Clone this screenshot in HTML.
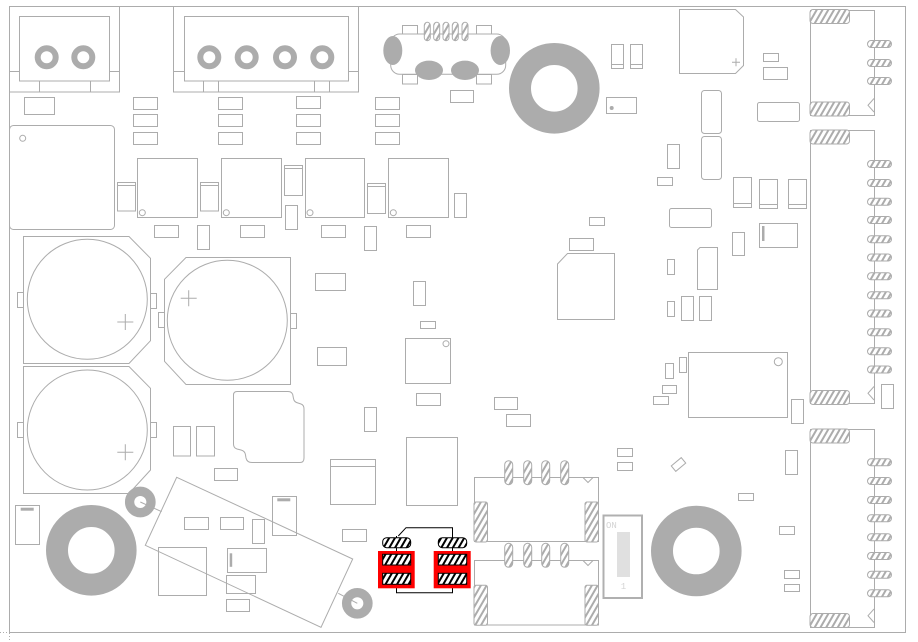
<!DOCTYPE html>
<html><head><meta charset="utf-8"><style>
html,body{margin:0;padding:0;background:#fff;}
svg{display:block;}
</style></head><body>
<svg width="918" height="642" viewBox="0 0 918 642" xmlns="http://www.w3.org/2000/svg" xmlns:xlink="http://www.w3.org/1999/xlink" font-family="Liberation Mono, monospace">
<defs>
<pattern id="hg" width="5" height="5" patternUnits="userSpaceOnUse" patternTransform="rotate(30)">
<rect width="5" height="5" fill="#fff"/><line x1="1" y1="0" x2="1" y2="5" stroke="#acacac" stroke-width="2"/></pattern>
<pattern id="hb" width="5" height="5" patternUnits="userSpaceOnUse" patternTransform="rotate(30)">
<rect width="5" height="5" fill="#fff"/><line x1="1" y1="0" x2="1" y2="5" stroke="#000" stroke-width="2"/></pattern>
<rect id="sp" width="24" height="7" rx="3.5" fill="url(#hg)" stroke="#acacac"/>
<rect id="bp" width="39.5" height="14" rx="3" fill="url(#hg)" stroke="#acacac"/>
<rect id="vp" width="6" height="18.4" rx="3" fill="url(#hg)" stroke="#acacac"/>
<rect id="pin" width="8" height="24" rx="4" fill="url(#hg)" stroke="#acacac"/>
<rect id="side" width="13.5" height="40" rx="2" fill="url(#hg)" stroke="#acacac"/>
<rect id="r3" width="24" height="12" fill="none" stroke="#acacac"/>
<circle id="ring" r="9" fill="none" stroke="#acacac" stroke-width="6"/>
<circle id="tor" r="34.3" fill="none" stroke="#acacac" stroke-width="22"/>
</defs>
<rect width="918" height="642" fill="#fff"/>
<g fill="none" stroke="#acacac" stroke-width="1">
<rect x="9.5" y="6.5" width="896" height="626"/>
<line x1="9.5" y1="615" x2="9.5" y2="642" stroke-dasharray="1,2"/>
<line x1="0" y1="632.5" x2="20" y2="632.5" stroke-dasharray="1,2"/>

<rect x="9.5" y="6.5" width="110" height="85.5"/>
<rect x="19.5" y="16.5" width="90" height="64.5"/>
<path d="M9.5,71.5H19.5M109.5,71.5H119.5M39.5,81V92M90.5,81V92"/>
<rect x="173.5" y="6.5" width="185" height="85.5"/>
<rect x="184.5" y="16.5" width="164" height="64.5"/>
<path d="M173.5,71.5H184.5M348.5,71.5H358.5M203.5,81V92M218.5,81V92M314.5,81V92M329.5,81V92"/>

<rect x="24.5" y="97.5" width="30" height="17"/>
<use href="#r3" x="133.5" y="97.5"/><use href="#r3" x="133.5" y="114.5"/><use href="#r3" x="133.5" y="132.5"/>
<use href="#r3" x="218.5" y="97.5"/><use href="#r3" x="218.5" y="114.5"/><use href="#r3" x="218.5" y="132.5"/>
<use href="#r3" x="296.5" y="96.5"/><use href="#r3" x="296.5" y="114.5"/><use href="#r3" x="296.5" y="132.5"/>
<use href="#r3" x="375.5" y="97.5"/><use href="#r3" x="375.5" y="114.5"/><use href="#r3" x="375.5" y="132.5"/>

<rect x="9.5" y="125.5" width="105" height="104" rx="4"/>
<circle cx="22.7" cy="138.3" r="3"/>

<rect x="137.5" y="158.5" width="60" height="59"/><circle cx="142.3" cy="212.7" r="3"/>
<rect x="221.5" y="158.5" width="60" height="59"/><circle cx="226.3" cy="212.7" r="3"/>
<rect x="305.5" y="158.5" width="59" height="59"/><circle cx="310" cy="212.7" r="3"/>
<rect x="388.5" y="158.5" width="60" height="59"/><circle cx="393.3" cy="212.7" r="3"/>
<rect x="117.5" y="182.5" width="18" height="28.5"/><path d="M117.5,185.5H135.5"/>
<rect x="200.5" y="182.5" width="18" height="28.5"/><path d="M200.5,185.5H218.5"/>
<rect x="284.5" y="165.5" width="18" height="30"/><path d="M284.5,168.5H302.5"/>
<rect x="367.5" y="183.5" width="18" height="30"/><path d="M367.5,186.5H385.5"/>
<rect x="454.5" y="193.5" width="12" height="24"/>
<rect x="285.5" y="205.5" width="12" height="24"/>
<use href="#r3" x="154.5" y="225.5"/>
<rect x="197.5" y="225.5" width="12" height="24"/>
<use href="#r3" x="240.5" y="225.5"/>
<use href="#r3" x="321.5" y="225.5"/>
<rect x="364.5" y="226.5" width="12" height="24"/>
<use href="#r3" x="406.5" y="225.5"/>

<rect x="390.7" y="34" width="115" height="40.3" rx="9"/>
<rect x="402.5" y="25.5" width="15" height="8.5"/>
<rect x="476.5" y="25.5" width="15" height="8.5"/>
<rect x="402.5" y="74.5" width="15" height="9.5"/>
<rect x="476.5" y="74.5" width="15" height="9.5"/>
<rect x="450.5" y="90.5" width="23" height="12"/>

<rect x="611.5" y="44.5" width="12" height="24"/><path d="M611.5,64.5H623.5"/>
<rect x="630.5" y="44.5" width="12" height="24"/><path d="M630.5,64.5H642.5"/>
<rect x="606.5" y="97.5" width="30" height="16"/>

<polygon points="679.5,9.5 735.5,9.5 743.5,17 743.5,65.5 735.5,73.5 679.5,73.5"/>
<path d="M732,62.3H740M736,58.3V66.3"/>
<rect x="763.5" y="53.5" width="15" height="8"/>
<use href="#r3" x="763.5" y="67.5"/>
<rect x="757.5" y="102.5" width="42" height="19" rx="2"/>
<rect x="701.5" y="90.5" width="20" height="43" rx="3"/>
<rect x="701.5" y="136.5" width="20" height="43" rx="3"/>
<rect x="667.5" y="144.5" width="12" height="24"/>
<rect x="657.5" y="177.5" width="15" height="8"/>
<rect x="733.5" y="177.5" width="18" height="30"/><path d="M733.5,203.5H751.5"/>
<rect x="759.5" y="179.5" width="18" height="29"/><path d="M759.5,204.5H777.5"/>
<rect x="788.5" y="179.5" width="18" height="29"/><path d="M788.5,204.5H806.5"/>
<rect x="669.5" y="208.5" width="42" height="19" rx="2"/>
<rect x="589.5" y="217.5" width="15" height="8"/>
<use href="#r3" x="569.5" y="238.5"/>
<rect x="732.5" y="232.5" width="12" height="23"/>
<rect x="759.5" y="223.5" width="38" height="24"/>

<rect x="810.5" y="10.5" width="64" height="105"/>
<polyline points="874,98.5 868,105.3 874,112"/>
<rect x="810.5" y="130.5" width="64" height="273"/>
<polyline points="874,386.5 868,393.3 874,400"/>
<rect x="810.5" y="429.5" width="64" height="198"/>
<polyline points="874,609 868,615.7 874,622.5"/>
<rect x="881.5" y="384.5" width="12" height="24"/>

<polygon points="567.5,253.5 614.5,253.5 614.5,319.5 557.5,319.5 557.5,264"/>
<rect x="667.5" y="259.5" width="7" height="15"/>
<polygon points="700,247.5 717.5,247.5 717.5,289.5 697.5,289.5 697.5,250"/>
<rect x="667.5" y="301.5" width="7" height="15"/>
<rect x="681.5" y="296.5" width="12" height="24"/>
<rect x="699.5" y="296.5" width="12" height="24"/>
<rect x="688.5" y="352.5" width="99" height="65"/><circle cx="778.3" cy="361.7" r="4"/>
<rect x="679.5" y="357.5" width="7" height="15"/>
<rect x="665.5" y="363.5" width="8" height="15"/>
<rect x="662.5" y="385.5" width="14" height="8"/>
<rect x="653.5" y="396.5" width="15" height="8"/>
<rect x="791.5" y="399.5" width="12" height="24"/>
<rect x="494.5" y="397.5" width="23" height="12"/>
<use href="#r3" x="506.5" y="414.5"/>
<rect x="617.5" y="448.5" width="15" height="8"/>
<rect x="617.5" y="462.5" width="15" height="8"/>
<rect x="-6.5" y="-3.5" width="13" height="7" transform="translate(678.5,464.5) rotate(-40)"/>
<rect x="785.5" y="450.5" width="12" height="24"/>
<rect x="738.5" y="493.5" width="15" height="7"/>
<rect x="779.5" y="526.5" width="15" height="8"/>
<rect x="784.5" y="570.5" width="15" height="8"/>
<rect x="784.5" y="584.5" width="15" height="7"/>

<polygon points="23.5,236.5 129,236.5 150.5,258.3 150.5,340.7 129,363.5 23.5,363.5"/>
<circle cx="87.3" cy="299.3" r="60"/>
<path d="M117.3,322H133.3M125.3,314V330"/>
<rect x="17.5" y="292.5" width="6" height="15"/><rect x="150.5" y="293.5" width="6" height="15"/>

<polygon points="23.5,366.5 129,366.5 150.5,388.3 150.5,470 129,493.5 23.5,493.5"/>
<circle cx="87.3" cy="430" r="60"/>
<path d="M117.3,452.3H133.3M125.3,444.3V460.3"/>
<rect x="17.5" y="422.5" width="6" height="15"/><rect x="150.5" y="422.5" width="6" height="15"/>

<polygon points="186,257.5 290.5,257.5 290.5,384.5 186,384.5 164.5,361.3 164.5,279.3"/>
<circle cx="227.3" cy="320.3" r="60"/>
<path d="M180.7,298.3H196.7M188.7,290.3V306.3"/>
<rect x="158.5" y="312.5" width="6" height="15"/><rect x="290.5" y="313.5" width="6" height="15"/>

<rect x="315.5" y="273.5" width="30" height="17"/>
<rect x="413.5" y="281.5" width="12" height="24"/>
<rect x="420.5" y="321.5" width="15" height="7"/>
<rect x="405.5" y="338.5" width="45" height="45"/><circle cx="446" cy="343.7" r="3"/>
<rect x="317.5" y="347.5" width="29" height="18"/>
<use href="#r3" x="416.5" y="393.5"/>
<rect x="364.5" y="407.5" width="12" height="24"/>
<rect x="406.5" y="437.5" width="51" height="68"/>
<rect x="173.5" y="426.5" width="17" height="29.5"/>
<rect x="196.5" y="426.5" width="18" height="29.5"/>
<rect x="330.5" y="459.5" width="45" height="45"/><path d="M330.5,466.5H375.5"/>
<path d="M237,391.5 L288,391.5 Q292.5,391.5 293,396 L293.5,398.5 Q294,402 298,403 L301,404 Q304,405 304,409 L304,458 Q304,462.5 300,462.5 L252,462.5 Q247,462.5 246,458 L245.5,455 Q245,451 241,450 L237,449 Q233.5,448 233.5,444 L233.5,395 Q233.5,391.5 237,391.5 Z"/>

<rect x="214.5" y="468.5" width="23" height="12"/>
<rect x="15.5" y="505.5" width="24" height="39"/>
<polygon points="176.7,477.3 352.7,559 321,627.3 145.3,545.3"/>
<path d="M140.3,502L161.7,511.7M338.3,593.3L357.3,603.3"/>
<use href="#r3" x="184.5" y="517.5"/>
<rect x="220.5" y="517.5" width="23" height="12"/>
<rect x="252.5" y="519.5" width="12" height="24"/>
<rect x="272.5" y="496.5" width="24" height="39"/>
<use href="#r3" x="342.5" y="529.5"/>
<rect x="158.5" y="547.5" width="48" height="48"/>
<rect x="227.5" y="548.5" width="39" height="24"/>
<rect x="226.5" y="575.5" width="29" height="18"/>
<rect x="226.5" y="599.5" width="23" height="12"/>

<rect x="474.5" y="477.5" width="124" height="64"/>
<polyline points="583,477.5 588,482.5 593,477.5"/>
<rect x="474.5" y="560.5" width="124" height="64.5"/>
<polyline points="583,560.5 588,565.5 593,560.5"/>
</g>

<g fill="#acacac">
<ellipse cx="392.8" cy="50.5" rx="9.5" ry="14.5"/>
<ellipse cx="500.3" cy="50.5" rx="9.7" ry="14.5"/>
<ellipse cx="429" cy="70.3" rx="14" ry="9.7"/>
<ellipse cx="465" cy="70.3" rx="14" ry="9.7"/>
<circle cx="611.7" cy="108" r="2"/>
<rect x="762" y="226" width="2.5" height="15"/>
<rect x="20.7" y="507.7" width="13" height="3"/>
<rect x="277.3" y="498.3" width="13" height="3"/>
<rect x="229.7" y="553.3" width="2.5" height="13.5"/>
</g>

<use href="#ring" x="46.7" y="57.3"/><use href="#ring" x="83.3" y="57.3"/>
<use href="#ring" x="209.3" y="57.3"/><use href="#ring" x="246.7" y="57.3"/>
<use href="#ring" x="285" y="57.3"/><use href="#ring" x="322.3" y="57.3"/>
<use href="#tor" x="554.3" y="88.3"/>
<use href="#tor" x="696.3" y="551"/>
<use href="#tor" x="91.3" y="550.3"/>
<circle cx="140.3" cy="502" r="10.7" fill="none" stroke="#acacac" stroke-width="9.3"/>
<circle cx="357.3" cy="603.3" r="10.7" fill="none" stroke="#acacac" stroke-width="9.3"/>

<use href="#vp" x="424.3" y="22.3"/><use href="#vp" x="433.7" y="22.3"/><use href="#vp" x="443" y="22.3"/><use href="#vp" x="452.3" y="22.3"/><use href="#vp" x="462" y="22.3"/>

<use href="#bp" x="810" y="9.5"/><use href="#bp" x="810" y="102"/>
<use href="#sp" x="867.5" y="40.5"/><use href="#sp" x="867.5" y="59.5"/><use href="#sp" x="867.5" y="77.5"/>

<use href="#bp" x="810" y="130"/><use href="#bp" x="810" y="390.5"/>
<use href="#sp" x="867.5" y="160.5"/><use href="#sp" x="867.5" y="179.5"/><use href="#sp" x="867.5" y="198.2"/><use href="#sp" x="867.5" y="216.5"/>
<use href="#sp" x="867.5" y="235.7"/><use href="#sp" x="867.5" y="254"/><use href="#sp" x="867.5" y="272.8"/><use href="#sp" x="867.5" y="291.8"/>
<use href="#sp" x="867.5" y="310"/><use href="#sp" x="867.5" y="328.8"/><use href="#sp" x="867.5" y="347.8"/><use href="#sp" x="867.5" y="366"/>

<use href="#bp" x="810" y="429"/><use href="#bp" x="810" y="613.5"/>
<use href="#sp" x="867.5" y="458.8"/><use href="#sp" x="867.5" y="477.5"/><use href="#sp" x="867.5" y="496.5"/><use href="#sp" x="867.5" y="514.8"/>
<use href="#sp" x="867.5" y="533.8"/><use href="#sp" x="867.5" y="552.5"/><use href="#sp" x="867.5" y="571.2"/><use href="#sp" x="867.5" y="589.8"/>

<use href="#side" x="474" y="502"/><use href="#side" x="585" y="502"/>
<use href="#pin" x="504.7" y="460.7"/><use href="#pin" x="523.7" y="460.7"/><use href="#pin" x="541.7" y="460.7"/><use href="#pin" x="560.7" y="460.7"/>
<use href="#side" x="474" y="585.3"/><use href="#side" x="585" y="585.3"/>
<use href="#pin" x="504.7" y="543.3"/><use href="#pin" x="523.7" y="543.3"/><use href="#pin" x="541.7" y="543.3"/><use href="#pin" x="560.7" y="543.3"/>

<rect x="603.5" y="515.5" width="38.5" height="82.5" fill="none" stroke="#b0b0b0" stroke-width="2"/>
<rect x="617" y="532" width="13" height="45" fill="#e0e0e0"/>
<text x="606" y="528" font-size="9" fill="#d4d4d4">ON</text>
<text x="623.5" y="589" font-size="9" fill="#d4d4d4" text-anchor="middle">1</text>

<polyline points="398.3,536 406,527.7 452.5,527.7 452.5,592.7 396.5,592.7 396.5,536" fill="none" stroke="#000"/>
<rect x="378" y="551" width="36.7" height="37.3" fill="#ff0000"/>
<rect x="433.7" y="551" width="37" height="37.3" fill="#ff0000"/>
<g fill="url(#hb)" stroke="#000">
<rect x="382.7" y="537.7" width="28" height="10" rx="4"/>
<rect x="438.3" y="537.7" width="28.4" height="10" rx="4"/>
<rect x="382.7" y="554.3" width="28" height="10.7"/>
<rect x="382.7" y="573.3" width="28" height="11"/>
<rect x="438.3" y="554.3" width="28.4" height="10.7"/>
<rect x="438.3" y="573.3" width="28.4" height="11"/>
</g>
</svg>
</body></html>
